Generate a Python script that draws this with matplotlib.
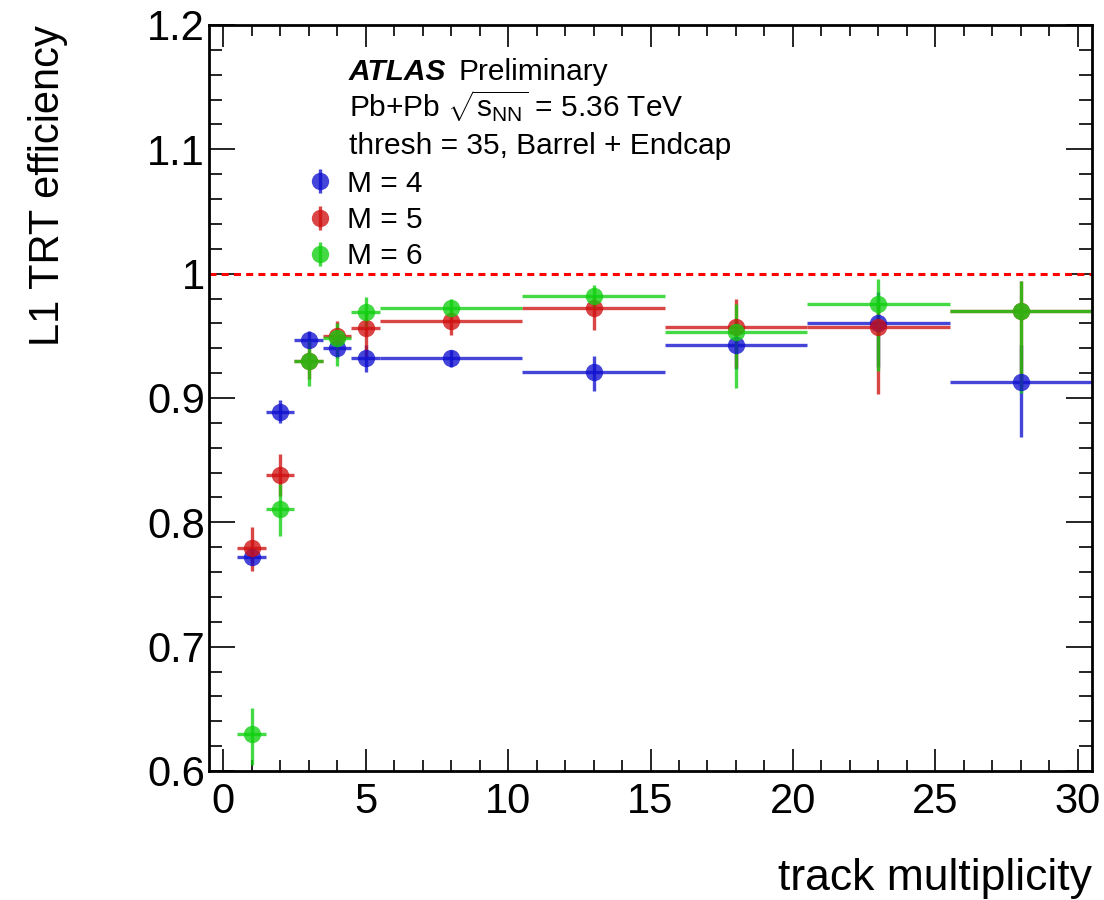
import matplotlib
matplotlib.use("Agg")
import matplotlib.pyplot as plt
from matplotlib.container import ErrorbarContainer
from matplotlib.legend_handler import HandlerErrorbar
from matplotlib.ticker import MultipleLocator

plt.rcParams["font.family"] = "Liberation Sans"
plt.rcParams["mathtext.fontset"] = "custom"
plt.rcParams["mathtext.rm"] = "Liberation Sans"
plt.rcParams["mathtext.it"] = "Liberation Sans:italic"

# —— data —— #
mult = [1, 2, 3, 4, 5, 8, 13, 18, 23, 28]
mult_halfwidth = [0.5, 0.5, 0.5, 0.5, 0.5, 2.5, 2.5, 2.5, 2.5, 2.5]

eff_m4 = [0.772, 0.889, 0.947, 0.940, 0.932, 0.932, 0.921, 0.943, 0.960, 0.913]
err_m4_lo = [0.005, 0.009, 0.007, 0.008, 0.011, 0.007, 0.015, 0.020, 0.035, 0.044]
err_m4_hi = [0.005, 0.009, 0.007, 0.008, 0.011, 0.007, 0.013, 0.020, 0.025, 0.030]

eff_m5 = [0.779, 0.838, 0.930, 0.950, 0.956, 0.962, 0.972, 0.957, 0.957, 0.970]
err_m5_lo = [0.018, 0.017, 0.015, 0.012, 0.022, 0.011, 0.017, 0.033, 0.054, 0.060]
err_m5_hi = [0.017, 0.017, 0.015, 0.012, 0.012, 0.011, 0.010, 0.023, 0.020, 0.024]

eff_m6 = [0.630, 0.811, 0.930, 0.948, 0.969, 0.972, 0.982, 0.953, 0.976, 0.970]
err_m6_lo = [0.025, 0.022, 0.020, 0.022, 0.012, 0.008, 0.010, 0.045, 0.054, 0.066]
err_m6_hi = [0.021, 0.020, 0.017, 0.012, 0.012, 0.008, 0.009, 0.023, 0.020, 0.024]

series = [
    ("M = 4", eff_m4, err_m4_lo, err_m4_hi, "#1010d0"),
    ("M = 5", eff_m5, err_m5_lo, err_m5_hi, "#d01010"),
    ("M = 6", eff_m6, err_m6_lo, err_m6_hi, "#10d010"),
]

# —— plot —— #
fig = plt.figure(figsize=(11.04, 9.0), dpi=100)
ax = fig.add_axes([209 / 1104, 1 - 771 / 900, (1092 - 209) / 1104, (771 - 25) / 900])

for label, eff, lo, hi, color in series:
    ax.errorbar(mult, eff, yerr=[lo, hi], xerr=mult_halfwidth, fmt="o",
                color=color, alpha=0.78, markersize=12.5, markeredgewidth=0,
                elinewidth=2.4, capsize=0, label=label)

ax.axhline(1.0, color="red", linewidth=2.2, dashes=(2.3, 1.7))

ax.set_xlim(-0.5, 30.5)
ax.set_ylim(0.6, 1.2)
ax.xaxis.set_major_locator(MultipleLocator(5))
ax.xaxis.set_minor_locator(MultipleLocator(1))
ax.yaxis.set_minor_locator(MultipleLocator(0.02))
ax.set_yticks([0.6, 0.7, 0.8, 0.9, 1.0, 1.1, 1.2])
ax.set_yticklabels(["0.6", "0.7", "0.8", "0.9", "1", "1.1", "1.2"])

ax.tick_params(which="both", direction="in", top=True, right=True,
               labelsize=30, width=1.2, colors="black")
ax.tick_params(axis="x", which="major", length=16, pad=8)
ax.tick_params(axis="x", which="minor", length=8)
ax.tick_params(axis="y", which="major", length=19, pad=3)
ax.tick_params(axis="y", which="minor", length=9.5)
for sp in ax.spines.values():
    sp.set_linewidth(2)

ax.set_xlabel("track multiplicity", fontsize=32, loc="right")
ax.xaxis.label.set_va("baseline")
ax.xaxis.set_label_coords(1.0, (771 - 890) / 746)
ax.set_ylabel("L1 TRT efficiency", fontsize=30, loc="top")
ax.yaxis.set_label_coords((68 - 209) / 883, 1.0)

# —— labels —— #
atlas = ax.text(0.158, 0.926, "ATLAS", transform=ax.transAxes, fontsize=21.5,
                fontweight="bold", style="italic", va="baseline")
ax.annotate("Preliminary", xy=(1, 0), xycoords=atlas, xytext=(9, 0),
            textcoords="offset points", fontsize=21.5, va="bottom")
ax.text(0.158, 0.876, r"Pb+Pb $\sqrt{\mathrm{s}_{\mathrm{NN}}}$ = 5.36 TeV",
        transform=ax.transAxes, fontsize=21.5, va="baseline")
ax.text(0.158, 0.827, "thresh = 35, Barrel + Endcap", transform=ax.transAxes,
        fontsize=21.5, va="baseline")

ax.legend(loc="upper left", bbox_to_anchor=(0.111, 0.806), frameon=False,
          fontsize=21.5, handlelength=0.9, handletextpad=0.45, labelspacing=0.28,
          borderpad=0, borderaxespad=0,
          handler_map={ErrorbarContainer: HandlerErrorbar(xerr_size=0, yerr_size=0.4)})

fig.savefig("out.png", dpi=100)
